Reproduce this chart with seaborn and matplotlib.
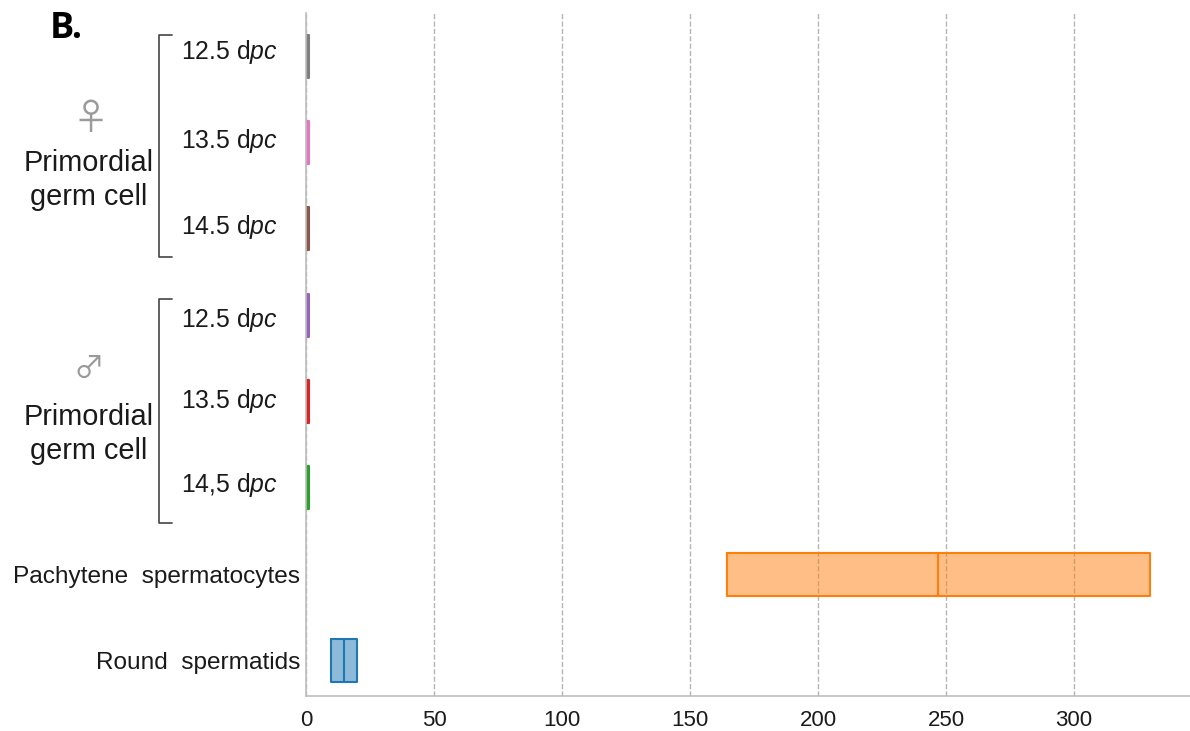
import pandas as pd
import seaborn as sns
from matplotlib import pyplot as plt
from matplotlib.lines import Line2D

stages = ['F 12.5 dpc', 'F 13.5 dpc', 'F 14.5 dpc', 'M 12.5 dpc', 'M 13.5 dpc', 'M 14,5 dpc',
          'Pachytene spermatocytes', 'Round spermatids']
tick_labels = ['', '', '', '', '', '', 'Pachytene  spermatocytes', 'Round  spermatids']
low = [0, 0, 0, 0, 0, 0, 164.5, 9.8]
median = [0.5, 0.5, 0.5, 0.5, 0.5, 0.5, 247, 14.8]
high = [1, 1, 1, 1, 1, 1, 329.7, 19.9]
colors = ['#7f7f7f', '#e377c2', '#8c564b', '#9467bd', '#d62728', '#2ca02c', '#ff7f0e', '#1f77b4']
xticks = [0, 50, 100, 150, 200, 250, 300]

W, H = 1190, 731


def fx(x):
    return x / W


def fy(y):
    return 1 - y / H


rows = []
for s, a, m, b in zip(stages, low, median, high):
    for v in [a, a, m, b, b]:
        rows.append({'stage': s, 'value': v})
df = pd.DataFrame(rows)

sns.set_theme(style='white')
plt.rcParams['font.family'] = ['Liberation Sans', 'DejaVu Sans']
plt.rcParams['mathtext.fontset'] = 'custom'
plt.rcParams['mathtext.it'] = 'Liberation Sans:italic'
plt.rcParams['mathtext.rm'] = 'Liberation Sans'

fig = plt.figure(figsize=(W / 100, H / 100), dpi=100)
ax = fig.add_axes([fx(306), fy(696), fx(1190 - 306), fy(13) - fy(696)])

# fill and outline drawn separately so the edges stay solid
sns.boxplot(data=df, x='value', y='stage', hue='stage', order=stages, hue_order=stages,
            palette=colors, saturation=1, width=0.5, linewidth=0, whis=0, showcaps=False,
            boxprops={'alpha': 0.5}, legend=False, ax=ax)
sns.boxplot(data=df, x='value', y='stage', hue='stage', order=stages, hue_order=stages,
            palette=colors, saturation=1, width=0.5, linewidth=1.5, whis=0, showcaps=False,
            fill=False, legend=False, ax=ax)

ax.set_xlim(0, 345.3)
ax.set_ylim(7.41, -0.5)
ax.set_xticks(xticks)
ax.set_yticks(range(len(stages)))
ax.set_yticklabels(tick_labels, fontsize=17.6, color='#1a1a1a')
ax.set_xlabel('')
ax.set_ylabel('')
ax.tick_params(axis='x', length=0, pad=10, labelsize=16, labelcolor='#1a1a1a')
ax.tick_params(axis='y', length=0, pad=4)
ax.xaxis.grid(True, linestyle='--', color='#b5b5b5', linewidth=1)
ax.set_axisbelow(True)
sns.despine(ax=ax)
for side in ['left', 'bottom']:
    ax.spines[side].set_color('#bdbdbd')
    ax.spines[side].set_linewidth(1.2)

# annotations pasted beside the axis
dpc = [('12.5', 52), ('13.5', 141), ('14.5', 227), ('12.5', 320), ('13.5', 401), ('14,5', 485)]
for d, y in dpc:
    fig.text(fx(181), fy(y), d + r' d$\mathit{pc}$', fontsize=17.8, color='#1a1a1a', ha='left', va='center')

for y in [180, 434]:
    fig.text(fx(89), fy(y), 'Primordial\ngerm cell', fontsize=20.8, color='#1a1a1a', ha='center', va='center',
             linespacing=1.3)

fig.text(fx(91), fy(119), '♀', fontsize=26, color='#9a9a9a', ha='center', va='center',
         family='Noto Sans CJK SC')
fig.text(fx(89), fy(369), '♂', fontsize=22, color='#9a9a9a', ha='center', va='center',
         family='Noto Sans CJK SC')

for top, bottom in [(35, 257), (299, 523)]:
    xs = [fx(172), fx(159), fx(159), fx(172)]
    ys = [fy(top), fy(top), fy(bottom), fy(bottom)]
    fig.add_artist(Line2D(xs, ys, color='#444444', linewidth=1.2))

fig.text(fx(50), fy(38), 'B.', fontsize=26, fontweight='bold', color='black', family='Open Sans',
         ha='left', va='baseline')

fig.savefig('out.png', dpi=100)
